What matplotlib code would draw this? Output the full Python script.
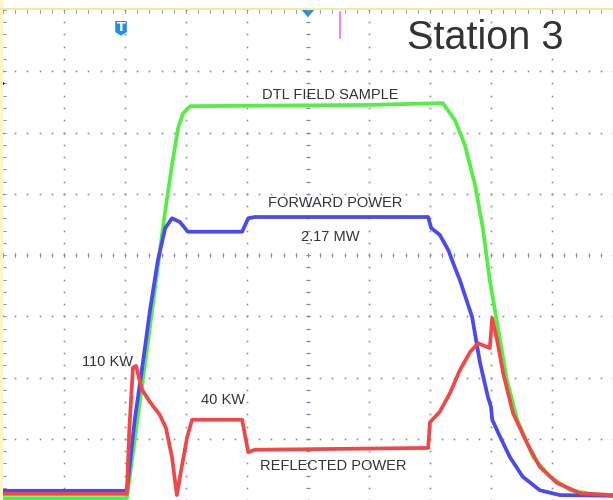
import matplotlib.pyplot as plt
from matplotlib.patches import Rectangle, Polygon, FancyBboxPatch
import numpy as np

# traces, in scope divisions (10 x 8 graticule)
dtl_t = [0, 2.03, 2.38, 2.66, 2.77, 2.87, 2.95, 3.07, 4.5, 6.0, 7.21, 7.41, 7.57, 7.74,
         7.87, 7.98, 8.10, 8.26, 8.43, 8.69, 8.97, 9.30, 9.62, 10.0]
dtl_v = [0.03, 0.03, 2.61, 4.73, 5.47, 6.07, 6.31, 6.43, 6.44, 6.45, 6.48, 6.20, 5.80, 5.14,
         4.41, 3.59, 2.89, 1.96, 1.31, 0.70, 0.38, 0.16, 0.10, 0.07]

fwd_t = [0, 2.03, 2.16, 2.30, 2.41, 2.54, 2.66, 2.77, 2.90, 3.03, 3.15, 3.92, 4.02, 4.13,
         6.97, 7.02, 7.16, 7.30, 7.41, 7.49, 7.69, 7.82, 7.95, 8.00, 8.02, 8.15, 8.31, 8.52,
         8.80, 9.13, 10.0]
fwd_v = [0.15, 0.15, 1.31, 2.29, 3.10, 3.92, 4.44, 4.60, 4.54, 4.38, 4.38, 4.38, 4.60, 4.62,
         4.62, 4.44, 4.33, 4.08, 3.79, 3.59, 2.99, 2.24, 1.68, 1.52, 1.31, 1.03, 0.70, 0.38,
         0.16, 0.08, 0.07]

ref_t = [0, 2.03, 2.07, 2.13, 2.18, 2.28, 2.41, 2.57, 2.67, 2.77, 2.85, 2.93, 3.02, 3.10,
         3.92, 4.02, 4.13, 6.97, 7.00, 7.16, 7.33, 7.49, 7.66, 7.79, 7.98, 8.02, 8.10, 8.20,
         8.36, 8.59, 8.80, 9.08, 9.46, 10.0]
ref_v = [0.10, 0.10, 1.14, 2.16, 2.19, 1.80, 1.60, 1.39, 1.18, 0.70, 0.08, 0.54, 1.03, 1.31,
         1.31, 0.78, 0.82, 0.85, 1.27, 1.44, 1.75, 2.12, 2.42, 2.56, 2.48, 2.97, 2.61, 2.07,
         1.42, 0.93, 0.54, 0.28, 0.11, 0.08]

labels = ["DTL FIELD SAMPLE", "FORWARD POWER", "2.17 MW", "110 KW", "40 KW", "REFLECTED POWER"]
label_pos = [(5.36, 6.62), (5.44, 4.85), (5.36, 4.29), (1.71, 2.25), (3.60, 1.63), (5.41, 0.56)]

fig = plt.figure(figsize=(6.13, 5.0), dpi=100)
fig.patch.set_facecolor('white')
# pale yellow frame strips at left and top
fig.patches.append(Rectangle((0, 0), 3 / 613, 1, transform=fig.transFigure,
                             facecolor='#fbf6c8', edgecolor='none'))
fig.patches.append(Rectangle((0, 490 / 500), 1, 1.5 / 500, transform=fig.transFigure,
                             facecolor='#f3e9a0', edgecolor='none'))

ax = fig.add_axes([3 / 613, 0, 610 / 613, 490 / 500])
ax.set_xlim(0, 10)
ax.set_ylim(0, 8)
ax.axis('off')

# graticule: dotted major lines
dot = '#8a8aa8'
fine = np.arange(0, 10.01, 0.2)
fine_y = np.arange(0, 8.01, 0.2)
for gy in range(1, 8):
    ax.plot(fine, np.full_like(fine, gy), ls='none', marker='s', ms=1.2, color=dot, mew=0)
for gx in range(1, 10):
    ax.plot(np.full_like(fine_y, gx), fine_y, ls='none', marker='s', ms=1.2, color=dot, mew=0)
# center axes with small ticks
for v in fine:
    ax.plot([v, v], [3.96, 4.04], color=dot, lw=0.6)
    ax.plot([v, v], [7.95, 8.0], color=dot, lw=0.6)
for v in fine_y:
    ax.plot([4.96, 5.04], [v, v], color=dot, lw=0.6)
    ax.plot([0, 0.05], [v, v], color=dot, lw=0.6)

# traces
ax.plot(dtl_t, dtl_v, color='#55ee44', lw=2.7, solid_joinstyle='round')
ax.plot(fwd_t, fwd_v, color='#4a4af0', lw=2.7, solid_joinstyle='round')
ax.plot(ref_t, ref_v, color='#f04848', lw=2.7, solid_joinstyle='round')

for txt, (x, y) in zip(labels, label_pos):
    ax.text(x, y, txt, ha='center', va='center', fontsize=10.5, color='#333333',
            family='Liberation Sans')

ax.text(7.90, 7.54, "Station 3", ha='center', va='center', fontsize=28.5, color='#333333',
        family='Liberation Sans')

# scope markers: trigger "T", trigger position, cursor
ax.add_patch(Polygon([[1.84, 7.82], [2.03, 7.82], [2.03, 7.64], [1.935, 7.58], [1.84, 7.64]],
                     closed=True, facecolor='#1e8ff0', edgecolor='none', clip_on=False))
ax.text(1.935, 7.71, "T", ha='center', va='center', fontsize=9, color='white', weight='bold')
ax.add_patch(Polygon([[4.9, 8.0], [5.1, 8.0], [5.0, 7.88]], closed=True,
                     facecolor='#1e8ff0', edgecolor='none', clip_on=False))
ax.plot([5.52, 5.52], [7.55, 7.97], color='#ff66ee', lw=1.2)
ax.annotate('', xy=(0.08, 6.8), xytext=(-0.05, 6.8),
            arrowprops=dict(arrowstyle='-|>', color='black', lw=1.2), annotation_clip=False)

fig.savefig('out.png', dpi=100)
